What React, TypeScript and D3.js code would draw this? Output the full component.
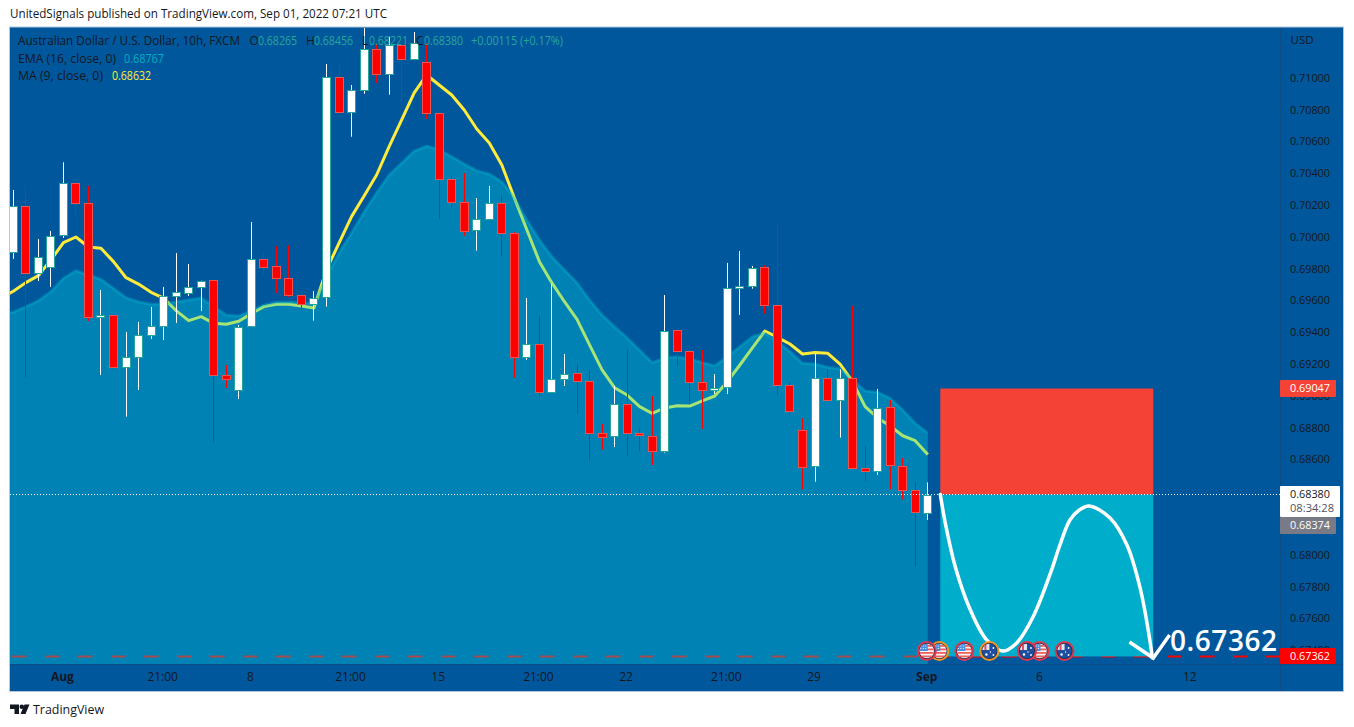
import React from "react";
import * as d3 from "d3";

const UNIT = 100000;
const opens = [69904,70193,69776,69810,70011,70342,70212,69495,69508,69184,69247,69386,69442,69627,69650,69684,69728,69130,69038,69438,69860,69815,69740,69633,69581,69621,71004,70784,70923,71181,71023,71206,71118,71099,70778,70363,70218,70042,70115,70212,70023,69247,69329,69023,69109,69142,69096,68766,68746,68952,68769,68751,68652,69413,69281,69086,69036,69054,69681,69694,69809,69570,69067,68784,68558,69111,68973,69111,68545,68529,68930,68562,68407,68265];
const highs = [70296,70321,69987,70038,70470,70346,70321,69667,69508,69403,69466,69560,69686,69899,69830,69725,69747,69195,69447,70094,69906,69943,69948,69660,69660,71088,71092,70956,71321,71214,71260,71281,71289,71218,70788,70386,70401,70245,70321,70262,70031,69616,69508,69704,69264,69201,69164,68824,69063,69294,68797,69000,69635,69445,69315,69289,69138,69837,69912,69818,69822,70092,69088,68860,69264,69170,69168,69566,68686,69044,68975,68610,68459,68456];
const lows = [69862,69115,69723,69686,69994,70128,69472,69132,69170,68870,69038,69359,69352,69459,69629,69535,68705,69050,68981,69438,69759,69648,69623,69537,69474,69562,70784,70631,70901,70969,70895,70851,71118,70742,70113,70184,70008,69914,70107,69882,69115,69227,68994,69023,69063,68881,68591,68662,68679,68625,68654,68566,68644,69184,68950,68793,69013,69013,69510,69675,69518,69006,68881,68413,68461,68973,68738,68545,68461,68503,68413,68350,67927,68221];
const closes = [70193,69776,69876,70008,70342,70212,69497,69508,69184,69247,69386,69442,69627,69652,69684,69725,69130,69109,69436,69860,69813,69740,69633,69581,69618,71004,70784,70923,71181,71023,71206,71118,71218,70778,70363,70218,70040,70115,70212,70023,69247,69329,69023,69109,69140,69096,68766,68744,68952,68769,68753,68652,69411,69281,69086,69036,69052,69681,69694,69807,69570,69067,68904,68556,69111,68973,69111,68545,68527,68927,68564,68407,68269,68380];
// both moving averages start one bar before the first candle
const maValues = [69616,69659,69713,69757,69855,69964,70000,69937,69929,69845,69744,69704,69652,69615,69537,69474,69499,69457,69451,69470,69518,69562,69577,69577,69566,69554,69793,69962,70128,70258,70390,70568,70736,70906,71019,70956,70893,70799,70679,70591,70453,70245,70044,69845,69711,69593,69482,69321,69164,69052,69006,68933,68891,68925,68939,68937,68969,69000,69090,69195,69302,69409,69369,69327,69264,69274,69269,69201,69090,68933,68862,68811,68750,68719,68632];
const emaValues = [69510,69528,69562,69599,69656,69740,69788,69761,69734,69677,69618,69593,69577,69579,69593,69604,69616,69562,69510,69503,69537,69571,69589,69591,69587,69583,69750,69899,70025,70159,70277,70390,70465,70541,70572,70547,70505,70459,70417,70396,70348,70245,70107,69981,69876,69793,69713,69604,69510,69436,69365,69289,69210,69239,69247,69233,69210,69191,69247,69310,69373,69396,69342,69279,69206,69201,69181,69172,69101,69032,69023,68986,68912,68828,68767];

const priceTicks = [71000,70800,70600,70400,70200,70000,69800,69600,69400,69200,69000,68800,68600,68000,67800,67600,67400];
const timeLabels: [number, string, boolean][] = [[4,"Aug",true],[12,"21:00",false],[19,"8",false],[27,"21:00",false],[34,"15",false],[42,"21:00",false],[49,"22",false],[57,"21:00",false],[64,"29",false],[73,"Sep",true],[82,"6",false],[94,"12",false]];
const eventBars: [number, "us" | "au", string][] = [[74,"us","#f7931e"],[73,"us","#e0394f"],[76,"us","#e0394f"],[78,"au","#f7931e"],[82,"us","#e0394f"],[81,"au","#e0394f"],[84,"au","#e0394f"]];

const stopPrice = 69047;
const entryPrice = 68380;
const targetPrice = 67362;
const lastClose = 68380;
const bidPrice = 68374;
const positionBars = [74, 91];
const sketchBars = [74,74.4,75.2,76.4,77.7,79,80.1,81.4,82.8,83.55,84.35,85.1,85.9,87.55,88.9,89.95,90.75,90.92];
const sketchPrices = [68380,68201,67925,67654,67466,67396,67447,67610,67887,68063,68220,68283,68308,68233,68063,67793,67453,67354];
const arrowBars = [89.1,91,92.3];
const arrowPrices = [67453,67352,67497];

const paneL = 10, paneR = 1280, paneT = 28, paneB = 664, frameR = 1343, frameB = 691;
const x = d3.scaleLinear().domain([0, 73]).range([13.3, 13.3 + 73 * 12.527]);
const y = d3.scaleLinear().domain([71000, 68000]).range([78, 555]);
const snap = (v: number) => Math.floor(v) + 0.5;

const BG = "#01579b";
const INK = "#131722";
const FONT = "'Open Sans', 'Noto Sans', sans-serif";

const fmt = (v: number) => (v / UNIT).toFixed(5);

const lineAt = d3.line<number>().x((_, i) => x(i - 1)).y((d) => y(d));
const areaAt = d3.area<number>().x((_, i) => x(i - 1)).y0(paneB).y1((d) => y(d));
const sketch = d3.line<number>().x((_, i) => x(sketchBars[i])).y((d) => y(d)).curve(d3.curveCatmullRom.alpha(0.5));
const arrow = d3.line<number>().x((_, i) => x(arrowBars[i])).y((d) => y(d));

function T({ tx, ty, w, children, size = 12, fill = INK, weight, anchor }: any) {
  return (
    <text x={tx} y={ty - 0.8} fontSize={size} fill={fill} fontWeight={weight} textAnchor={anchor} fontFamily={FONT}
      dominantBaseline="central" {...(w ? { textLength: w, lengthAdjust: "spacingAndGlyphs" } : {})}>
      {children}
    </text>
  );
}

function Flag({ cx, cy, kind, ring, id }: any) {
  const stripes = [-6, -2.5, 1, 4.5];
  const dots = [[-6, -5], [-3.5, -5], [-1, -5], [-6, -2.5], [-3.5, -2.5], [-1, -2.5]];
  return (
    <g>
      <circle cx={cx} cy={cy} r={9} fill="#1c2a4a" stroke={ring} strokeWidth={2} />
      <clipPath id={id}><circle cx={cx} cy={cy} r={7.3} /></clipPath>
      <g clipPath={`url(#${id})`}>
        {kind === "us" ? (
          <>
            <rect x={cx - 8} y={cy - 8} width={16} height={16} fill="#f8f4f4" />
            {stripes.map((s) => <rect key={s} x={cx - 8} y={cy + s} width={16} height={1.8} fill="#f0605f" />)}
            <rect x={cx - 8} y={cy - 8} width={9} height={8} fill="#4a90e2" />
            {dots.map(([a, b], i) => <circle key={i} cx={cx + a} cy={cy + b} r={0.6} fill="#fff" />)}
          </>
        ) : (
          <>
            <rect x={cx - 8} y={cy - 8} width={16} height={16} fill="#1c4fa0" />
            <rect x={cx - 8} y={cy - 8} width={8} height={7} fill="#dfe6f2" />
            <rect x={cx - 5} y={cy - 8} width={2} height={7} fill="#e0505a" />
            <circle cx={cx - 3} cy={cy + 3.5} r={1.2} fill="#fff" />
            <circle cx={cx + 4} cy={cy - 3} r={0.9} fill="#fff" />
            <circle cx={cx + 4} cy={cy + 4} r={0.9} fill="#fff" />
            <circle cx={cx + 1} cy={cy + 1} r={0.7} fill="#fff" />
          </>
        )}
      </g>
    </g>
  );
}

export default function App() {
  const yTarget = y(targetPrice);
  const yStop = y(stopPrice);
  const yEntry = y(entryPrice);
  const x0 = x(positionBars[0]);
  const x1 = x(positionBars[1]);
  const yLast = snap(y(lastClose));
  return (
    <svg width={1354} height={727} style={{ position: "absolute", left: 0, top: 0, display: "block", background: "#fff" }}>
      <defs>
        <clipPath id="pane"><rect x={paneL} y={paneT} width={paneR - paneL} height={paneB - paneT} /></clipPath>
      </defs>
      <T tx={10} ty={14.5} w={377} size={12}>UnitedSignals published on TradingView.com, Sep 01, 2022 07:21 UTC</T>

      <rect x={paneL} y={27} width={frameR - paneL} height={frameB - 27} fill={BG} />

      <g clipPath="url(#pane)">
        <line x1={paneL + 2} x2={paneR} y1={yTarget} y2={yTarget} stroke="#ff0000" strokeWidth={2} strokeDasharray="14.5 18.5" />
        <path d={lineAt(maValues) ?? ""} fill="none" stroke="#ffeb3b" strokeWidth={3} strokeLinejoin="round" />
        <path d={areaAt(emaValues) ?? ""} fill="rgb(0,216,226)" fillOpacity={0.35} />
        <path d={lineAt(emaValues) ?? ""} fill="none" stroke="#00bcd4" strokeOpacity={0.35} strokeWidth={3} />

        {opens.map((o, i) => {
          const up = closes[i] >= o;
          const cx = snap(x(i));
          const top = Math.round(y(Math.max(o, closes[i]))) + 0.5;
          const bot = Math.round(y(Math.min(o, closes[i]))) + 0.5;
          return (
            <g key={i}>
              <line x1={cx} x2={cx} y1={y(highs[i])} y2={y(lows[i])} stroke={up ? "#ffffff" : "#ff0000"} strokeWidth={1} />
              <rect x={cx - 4} y={top} width={8} height={Math.max(bot - top, 1)} fill={up ? "#ffffff" : "#ff0000"} stroke={up ? "#26a69a" : "#ef5350"} strokeWidth={1} />
            </g>
          );
        })}

        <rect x={x0} y={yStop} width={x1 - x0} height={yEntry - yStop} fill="#f44336" />
        <rect x={x0} y={yEntry} width={x1 - x0} height={yTarget - yEntry} fill="#00aecb" />
        <line x1={paneL} x2={paneR} y1={yLast} y2={yLast} stroke="#ffffff" strokeWidth={1} strokeDasharray="1 2" />
        <path d={sketch(sketchPrices) ?? ""} fill="none" stroke="#ffffff" strokeWidth={3.5} strokeLinecap="round" />
        <path d={arrow(arrowPrices) ?? ""} fill="none" stroke="#ffffff" strokeWidth={3.5} />
        <text x={1170} y={640} fontSize={28} fontWeight={600} fill="#ffffff" fontFamily={FONT} dominantBaseline="central" textLength={107} lengthAdjust="spacing">{fmt(targetPrice)}</text>
        {eventBars.map(([b, kind, ring], i) => <Flag key={i} id={`f${i}`} cx={x(b) - 1} cy={651} kind={kind} ring={ring} />)}
      </g>

      {/* legend */}
      <T tx={18} ty={41} w={222} size={12}>Australian Dollar / U.S. Dollar, 10h, FXCM</T>
      <T tx={249.5} ty={41}>O</T><T tx={258} ty={41} w={39} fill="#26a69a">{fmt(opens[73])}</T>
      <T tx={306} ty={41}>H</T><T tx={314} ty={41} w={39} fill="#26a69a">{fmt(highs[73])}</T>
      <T tx={362} ty={41}>L</T><T tx={369} ty={41} w={39} fill="#26a69a">{fmt(lows[73])}</T>
      <T tx={416} ty={41}>C</T><T tx={424} ty={41} w={39} fill="#26a69a">{fmt(closes[73])}</T>
      <T tx={471} ty={41} w={92} fill="#26a69a">+0.00115 (+0.17%)</T>
      <T tx={18} ty={59} w={98}>EMA (16, close, 0)</T>
      <T tx={124} ty={59} w={40} fill="#00acc1">{fmt(emaValues[74])}</T>
      <T tx={18} ty={76} w={85}>MA (9, close, 0)</T>
      <T tx={112} ty={76} w={39} fill="#ffeb3b">{fmt(maValues[74])}</T>

      {/* axes */}
      <line x1={paneR + 0.5} x2={paneR + 0.5} y1={27} y2={frameB} stroke="#0d4c85" />
      <line x1={paneL} x2={frameR} y1={paneB + 0.5} y2={paneB + 0.5} stroke="#0d4c85" />
      <T tx={1290.5} ty={40.5} size={11.5}>USD</T>
      {priceTicks.map((p) => <T key={p} tx={1290} ty={y(p)} w={40} size={11.5}>{fmt(p)}</T>)}
      {timeLabels.map(([b, s, bold]) => <T key={`${b}`} tx={x(b) - 1} ty={677} anchor="middle" size={12} weight={bold ? 700 : 400}>{s}</T>)}

      {/* price labels */}
      <rect x={1280} y={380} width={56} height={17} fill="#f44336" rx={1} />
      <T tx={1290} ty={388.5} w={40} size={11.5} fill="#fff">{fmt(stopPrice)}</T>
      <rect x={1280} y={486} width={60} height={31} fill="#ffffff" rx={1} />
      <T tx={1290} ty={494.5} w={40} size={11.5} fill={INK}>{fmt(lastClose)}</T>
      <T tx={1290} ty={508.5} w={44} size={11.5} fill="#50535e">08:34:28</T>
      <rect x={1280} y={517} width={56} height={17} fill="#787b86" rx={1} />
      <T tx={1290} ty={525.5} w={40} size={11.5} fill="#fff">{fmt(bidPrice)}</T>
      <rect x={1280} y={648} width={56} height={16} fill="#ff0000" rx={1} />
      <T tx={1290} ty={656} w={40} size={11.5} fill="#fff">{fmt(targetPrice)}</T>

      {/* frame */}
      <rect x={paneL - 0.5} y={27} width={frameR - paneL + 1} height={frameB - 27 + 0.5} fill="none" stroke="#b4c7dc" strokeWidth={1} />

      {/* footer logo */}
      <path d="M10 704.5 H19 V714 H14.5 V709 H10 Z" fill={INK} />
      <circle cx={21.8} cy={706.8} r={2.3} fill={INK} />
      <path d="M24.5 704.5 H29.5 L25.5 714 H20.5 Z" fill={INK} />
      <T tx={33} ty={709.5} w={71} size={13}>TradingView</T>
    </svg>
  );
}
